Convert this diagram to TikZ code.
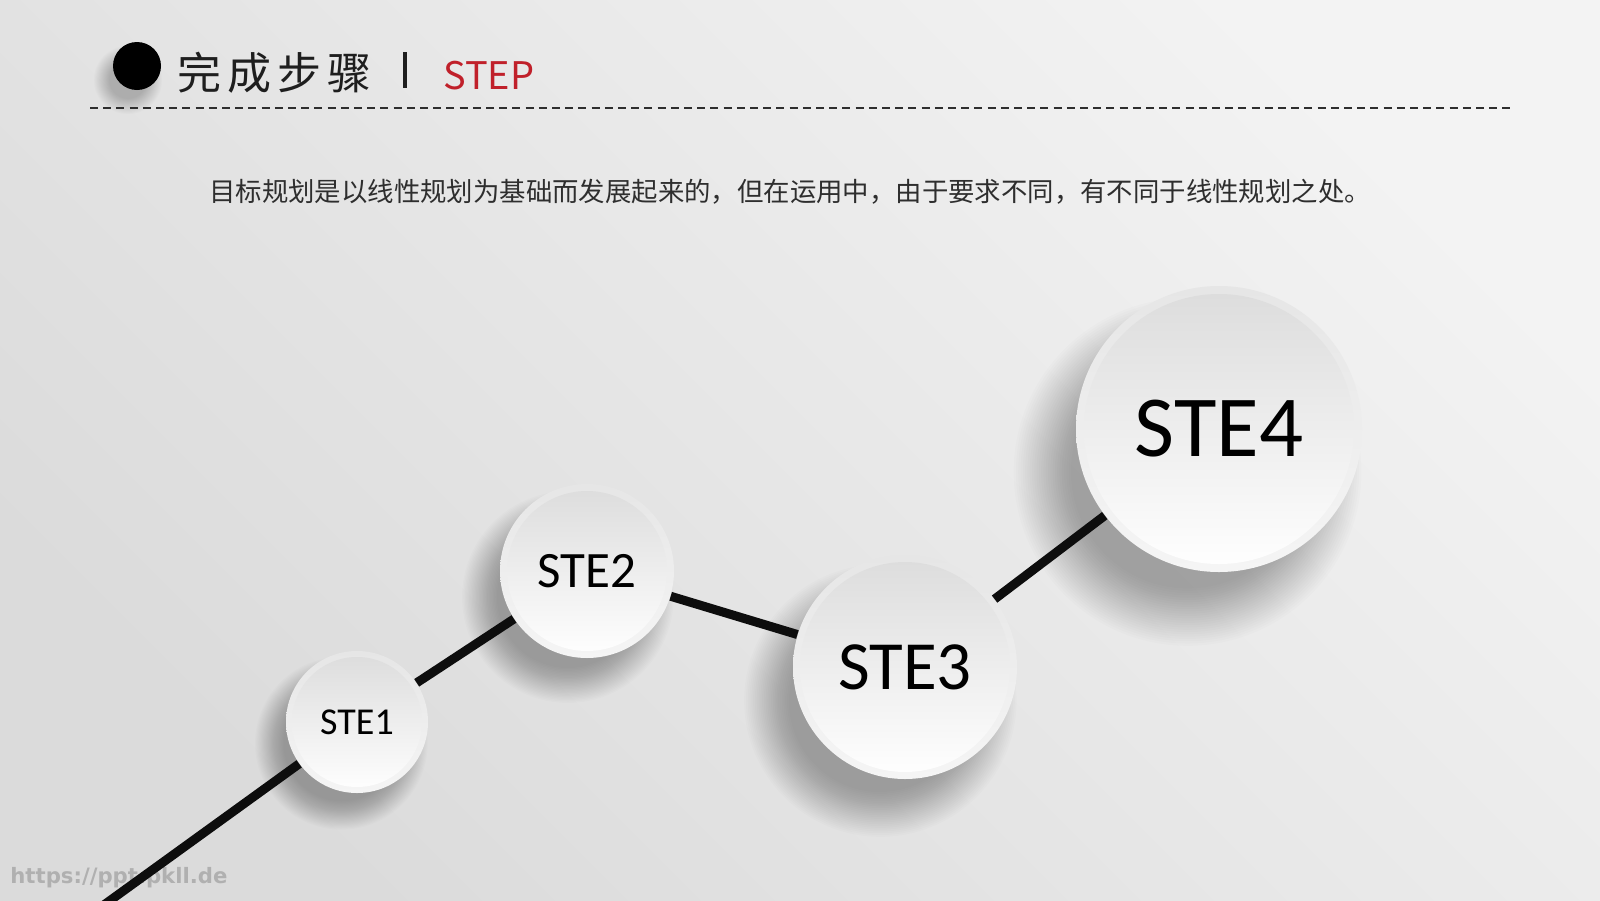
\documentclass[tikz,border=0pt]{standalone}
\usepackage{fontspec}
\newfontfamily\cjk{Noto Sans CJK SC}
\newfontfamily\stefont{Carlito}
\newfontfamily\urlfont{DejaVu Sans}
\usetikzlibrary{positioning,calc}

\definecolor{bgdark}{HTML}{DBDBDB}
\definecolor{bglight}{HTML}{F3F3F3}
\definecolor{rimtop}{HTML}{E6E6E6}
\definecolor{rimbot}{HTML}{F5F5F5}
\definecolor{facetop}{HTML}{DCDCDC}
\definecolor{facemid}{HTML}{F1F1F1}
\definecolor{linegray}{HTML}{0D0D0D}
\definecolor{titlegray}{HTML}{1E1E1E}
\definecolor{textgray}{HTML}{2E2E2E}
\definecolor{stepred}{HTML}{C0202A}

\begin{document}
\begin{tikzpicture}[
    x=0.5pt, y=-0.5pt,
    stepball/.style 2 args={circle, inner sep=0pt, minimum size=#1,
      top color=rimtop, bottom color=rimbot,
      path picture={\shade[top color=facetop, middle color=facemid, bottom color=white]
        (path picture bounding box.center) circle[radius=#2];}},
    stelabel/.style={font=\stefont\fontsize{#1}{#1}\selectfont, text=black},
    track/.style={draw=linegray, line width=4.5pt},
    softshadow/.style={fill=black, opacity=0.012}
  ]
    \clip (0,0) rectangle (1600,900);
    \shade[top color=bgdark, bottom color=bglight, shading angle=135] (0,0) rectangle (1600,900);

    % header
    \foreach \k in {1,...,18}
      \fill[softshadow] (128,80) circle[radius={18+0.9*\k}];
    \node[circle, fill=black, minimum size=24pt, inner sep=0pt] (dot) at (137,66) {};
    \node[anchor=base west, inner sep=0pt, font=\cjk\fontsize{22}{22}\selectfont, text=titlegray] (title) at (177,89)
      {完\hspace{3pt}成\hspace{3pt}步\hspace{3pt}骤};
    \node[base right=35.5pt of title, inner sep=0pt, font=\cjk\fontsize{19}{19}\selectfont, text=stepred] (steptag) {STEP};
    \draw[titlegray, line width=2pt] (405,52) -- (405,88);
    \draw[textgray, line width=0.8pt, dash pattern=on 4pt off 2.6pt] (90,108) -- (1510,108);

    \node[anchor=base, inner sep=0pt, font=\cjk\fontsize{13.2}{13.2}\selectfont, text=textgray] (intro) at (790,201)
      {目标规划是以线性规划为基础而发展起来的，但在运用中，由于要求不同，有不同于线性规划之处。};

    \node[anchor=base west, inner sep=0pt, font=\urlfont\bfseries\fontsize{10.6}{10.6}\selectfont, text=gray!62] (wmark) at (10,883)
      {https://ppt.pkll.de};

    % steps
    \coordinate (start) at (90,915);
    \coordinate (p1) at (357,722);
    \coordinate (p2) at (587,571);
    \coordinate (p3) at (905,667);
    \coordinate (p4) at (1219,429);

    \foreach \ctr/\rad in {p1/71, p2/87, p3/112, p4/143}
      \foreach \k in {1,...,26}
        \fill[softshadow] ($(\ctr)+({-0.22*\rad},{0.3*\rad})$) circle[radius={\rad*(0.8+0.016*\k)}];

    \node[stepball={71pt}{32.5pt}, stelabel=19] (s1) at (p1) {STE1};
    \node[stepball={87pt}{40pt}, stelabel=25.5] (s2) at (p2) {STE2};
    \node[stepball={112pt}{52.5pt}, stelabel=34.5] (s3) at (p3) {STE3};
    \node[stepball={143pt}{67.5pt}, stelabel=43.5] (s4) at (p4) {STE4};

    \draw[track] (start) -- (s1);
    \draw[track] (s1) -- (s2);
    \draw[track] (s2) -- (s3);
    \draw[track] (s3) -- (s4);
  \end{tikzpicture}
\end{document}
